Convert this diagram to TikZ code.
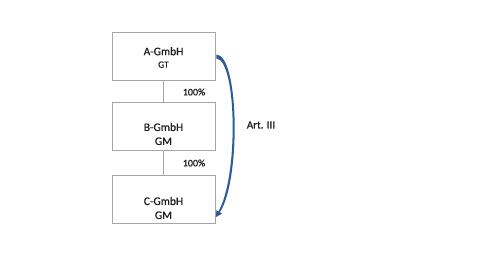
\documentclass[tikz,border=0pt]{standalone}
\usepackage{fontspec}
\setmainfont{Carlito}[FakeBold=0.6]
\newfontfamily\labelfont{Carlito}[FakeBold=0.6]
\usetikzlibrary{arrows.meta}
\definecolor{boxgray}{HTML}{A6A6A6}
\definecolor{arcblue}{HTML}{2E5A96}
\definecolor{txt}{HTML}{1A1A1A}
\begin{document}
\begin{tikzpicture}[x=1pt,y=-1pt,
  company/.style={draw=boxgray,line width=0.8pt,minimum width=103pt,minimum height=48pt,inner sep=0pt},
  cotext/.style={align=center,text=txt,inner sep=0pt,font=\labelfont\fontsize{11.5}{14}\selectfont},
  link/.style={draw=boxgray,line width=0.8pt},
  share/.style={text=txt,font=\labelfont\fontsize{10}{12}\selectfont,inner sep=0pt}]
\useasboundingbox (0,0) rectangle (483,255);
\node[company] (A) at (163.5,56) {};
\node[company] (B) at (163.5,126.5) {};
\node[company] (C) at (163.5,199.5) {};
\node[cotext] (At) at (163.5,57.5) {A-GmbH\\[-1.5pt]{\fontsize{9.5}{12}\selectfont GT}};
\node[cotext] (Bt) at (163.5,134) {B-GmbH\\GM};
\node[cotext] (Ct) at (163.5,208) {C-GmbH\\GM};
\draw[link] (A) -- (B);
\draw[link] (B) -- (C);
\node[share] (p1) at (194,92) {100\%};
\node[share] (p2) at (194,163) {100\%};
\node[text=txt,font=\labelfont\fontsize{11}{13}\selectfont,inner sep=0pt] (art) at (261,125) {Art. III};
% tapered arc from A to C
\coordinate (s1) at ([xshift=1pt,yshift=1.5pt]A.east);
\coordinate (s2) at ([xshift=1pt,yshift=-2.5pt]A.east);
\coordinate (e1) at ([xshift=5pt,yshift=-12pt]C.east);
\coordinate (e2) at ([xshift=2pt,yshift=-13.5pt]C.east);
\fill[arcblue] (s1) .. controls (239,55) and (241,178) .. (e1)
  -- (e2) .. controls (238.8,180) and (237,60) .. (s2) -- cycle;
\draw[arcblue,line width=0.1pt,fill=arcblue,-{Triangle[length=6pt,width=6.5pt]}]
  ([xshift=3.5pt,yshift=-12.75pt]C.east) -- ([xshift=0.5pt,yshift=-17.5pt]C.east);
\end{tikzpicture}
\end{document}
